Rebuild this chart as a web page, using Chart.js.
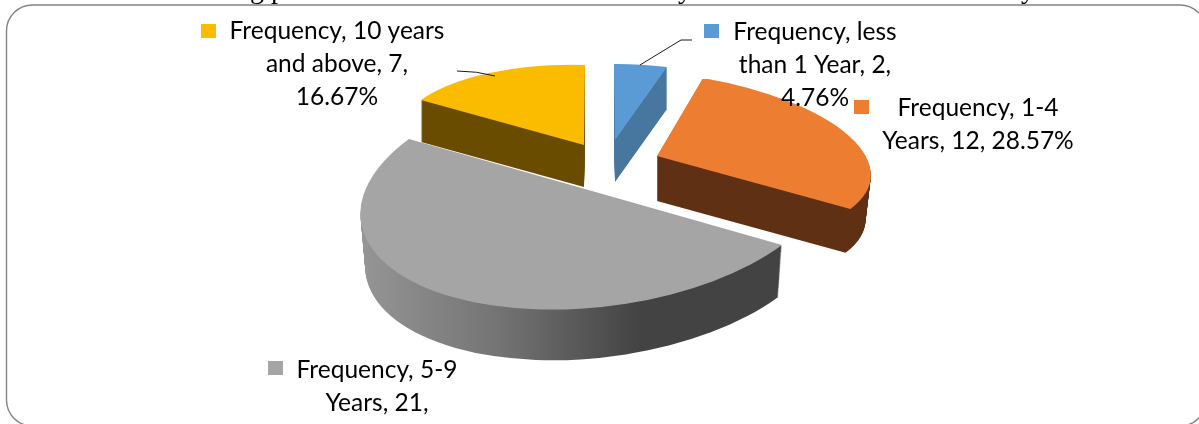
<!DOCTYPE html>
<html>
<head>
<meta charset="utf-8">
<style>
  html, body { margin: 0; padding: 0; background: #fff; }
  canvas { display: block; }
</style>
<script src="https://cdn.jsdelivr.net/npm/chart.js@4/dist/chart.umd.min.js"></script>
</head>
<body>
<canvas id="pie3d" width="1199" height="424"></canvas>
<script>
const seriesName = 'Frequency';
const categories = ['less than 1 Year', '1-4 Years', '5-9 Years', '10 years and above'];
const frequency = [2, 12, 21, 7];
const percents = ['4.76%', '28.57%', '50.00%', '16.67%'];

const topColors = ['#5b9bd5', '#ed7d31', '#a5a5a5', '#fbbc00'];
const wallColors = ['#47769f', '#5f3013', null, '#6a4c00'];

// wrapped the way the original label boxes wrap
const labelLines = [
    ['Frequency, less', 'than 1 Year, 2,', '4.76%'],
    ['Frequency, 1-4', 'Years, 12, 28.57%'],
    ['Frequency, 5-9', 'Years, 21,', '50.00%'],
    ['Frequency, 10 years', 'and above, 7,', '16.67%']
];

// where each slice lands on the page: centre, first rim corner, second rim point
const sliceViews = [
    { apex: [615, 140], a: [614, 64], b: [667, 67], depth: 42, taper: 0 },
    { apex: [657, 156], a: [703, 78], b: [849, 136], depth: 45, taper: 0.025, bIsMid: true },
    { apex: [595.5, 192], a: [782, 245], b: [452.5, 297], depth: 53, taper: 0.02, bIsMid: true },
    { apex: [584, 145], a: [421, 100], b: [585, 65], depth: 42, taper: 0 }
];
const labelSpots = [
    { x: 815, y: 32, key: [704, 24] },
    { x: 978, y: 108, key: [854, 100] },
    { x: 377, y: 370, key: [268, 361] },
    { x: 337, y: 31, key: [201, 24] }
];
const drawOrder = [0, 3, 1, 2];

const sliceMatrix = (arc, view) => {
    const r = arc.outerRadius;
    const angleB = view.bIsMid ? (arc.startAngle + arc.endAngle) / 2 : arc.endAngle;
    const ax = Math.cos(arc.startAngle) * r, ay = Math.sin(arc.startAngle) * r;
    const bx = Math.cos(angleB) * r, by = Math.sin(angleB) * r;
    const ux = view.a[0] - view.apex[0], uy = view.a[1] - view.apex[1];
    const vx = view.b[0] - view.apex[0], vy = view.b[1] - view.apex[1];
    const det = ax * by - ay * bx;
    const m11 = (ux * by - vx * ay) / det;
    const m12 = (vx * ax - ux * bx) / det;
    const m21 = (uy * by - vy * ay) / det;
    const m22 = (vy * ax - uy * bx) / det;
    return { m11, m12, m21, m22 };
};

// same slice, pushed down by d and shrunk a little towards its centre
const setSliceTransform = (c, arc, view, m, d) => {
    const s = 1 - view.taper * d / view.depth;
    c.setTransform(m.m11 * s, m.m21 * s, m.m12 * s, m.m22 * s,
        view.apex[0] - s * (m.m11 * arc.x + m.m12 * arc.y),
        view.apex[1] + d - s * (m.m21 * arc.x + m.m22 * arc.y));
};

const wallCanvas = document.createElement('canvas');
wallCanvas.width = 1199;
wallCanvas.height = 424;

const pie3dPlugin = {
    id: 'pie3d',
    beforeDatasetsDraw(chart) {
        const ctx = chart.ctx;
        const arcs = chart.getDatasetMeta(0).data;
        const off = wallCanvas.getContext('2d');

        const grayWall = off.createLinearGradient(362, 0, 640, 0);
        grayWall.addColorStop(0, '#959595');
        grayWall.addColorStop(0.5, '#737373');
        grayWall.addColorStop(1, '#434343');

        drawOrder.forEach(i => {
            const arc = arcs[i];
            const view = sliceViews[i];
            const m = sliceMatrix(arc, view);

            // side walls: stacked copies of the slice, then recoloured
            off.setTransform(1, 0, 0, 1, 0, 0);
            off.clearRect(0, 0, 1199, 424);
            for (let d = view.depth; d >= 1; d--) {
                off.save();
                setSliceTransform(off, arc, view, m, d);
                arc.draw(off);
                off.restore();
            }
            off.save();
            off.setTransform(1, 0, 0, 1, 0, 0);
            off.globalCompositeOperation = 'source-in';
            off.fillStyle = wallColors[i] || grayWall;
            off.fillRect(0, 0, 1199, 424);
            off.restore();
            ctx.drawImage(wallCanvas, 0, 0);

            ctx.save();
            setSliceTransform(ctx, arc, view, m, 0);
            arc.draw(ctx);
            ctx.restore();
        });
        return false;
    },
    afterDraw(chart) {
        const ctx = chart.ctx;
        ctx.save();

        // cut-off title line above the frame
        ctx.fillStyle = '#000';
        ctx.font = '28px "Liberation Serif"';
        ctx.textAlign = 'left';
        ctx.textBaseline = 'alphabetic';
        ctx.fillText('g p', 250, -2);
        ctx.fillText('y', 678, -2);
        ctx.fillText('y', 1021, -2);

        // frame, runs off the page on the right and at the bottom
        ctx.strokeStyle = '#828282';
        ctx.lineWidth = 1.4;
        ctx.beginPath();
        ctx.roundRect(6.5, 5, 1199.5, 421, 26);
        ctx.stroke();

        // leader lines
        ctx.strokeStyle = '#1a1a1a';
        ctx.lineWidth = 1;
        ctx.beginPath();
        ctx.moveTo(692, 40);
        ctx.lineTo(681, 40);
        ctx.lineTo(640, 65);
        ctx.moveTo(457, 71);
        ctx.quadraticCurveTo(477, 71, 495, 76);
        ctx.stroke();

        // labels
        ctx.font = '24.5px Lato';
        ctx.textAlign = 'center';
        ctx.textBaseline = 'middle';
        labelLines.forEach((lines, i) => {
            const spot = labelSpots[i];
            ctx.fillStyle = topColors[i];
            ctx.fillRect(spot.key[0], spot.key[1], 15, 14);
            ctx.fillStyle = '#000';
            lines.forEach((line, n) => ctx.fillText(line, spot.x, spot.y + n * 33));
        });
        ctx.restore();
    }
};

new Chart(document.getElementById('pie3d'), {
    type: 'pie',
    data: {
        labels: categories,
        datasets: [{
            label: seriesName,
            data: frequency,
            backgroundColor: topColors,
            borderWidth: 0
        }]
    },
    options: {
        responsive: false,
        animation: false,
        plugins: {
            legend: { display: false },
            tooltip: { enabled: false }
        }
    },
    plugins: [pie3dPlugin]
});
</script>
</body>
</html>
